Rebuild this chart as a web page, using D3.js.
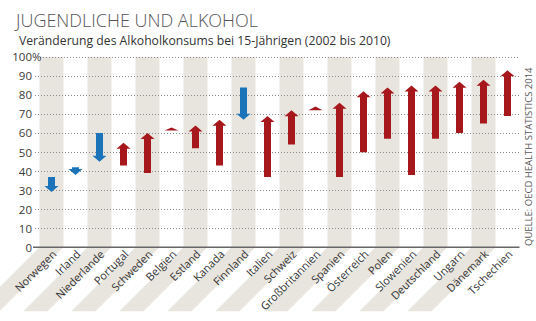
<!DOCTYPE html>
<html>
<head>
<meta charset="utf-8">
<script src="https://cdn.jsdelivr.net/npm/d3@7"></script>
<style>
  body { margin: 0; background: #fff; }
  svg { display: block; font-family: "Open Sans", "Noto Sans", sans-serif; }
</style>
</head>
<body>
<div id="chart"></div>
<script>
// Alkoholkonsum 15-Jähriger, Anteil in %, 2002 -> 2010
const countries = [
  'Norwegen', 'Irland', 'Niederlande', 'Portugal', 'Schweden', 'Belgien',
  'Estland', 'Kanada', 'Finnland', 'Italien', 'Schweiz', 'Großbritannien',
  'Spanien', 'Österreich', 'Polen', 'Slowenien', 'Deutschland', 'Ungarn',
  'Dänemark', 'Tschechien'
];
const values2002 = [37, 42, 60, 43, 39, 62, 52, 43, 84, 37, 54, 72, 37, 50, 57, 38, 57, 60, 65, 69];
const values2010 = [29, 38, 45, 55, 60, 63, 64, 67, 67, 69, 72, 74, 76, 82, 84, 85, 85, 87, 88, 93];
const yTicks = [0, 10, 20, 30, 40, 50, 60, 70, 80, 90, 100];

const width = 536, height = 321;
const margins = { top: 57, right: 16.5, bottom: 73, left: 39.5 };
const red = '#a6181c', blue = '#1b74b9', stripe = '#e8e5de';

const data = countries.map((c, i) => ({ country: c, from: values2002[i], to: values2010[i] }));

const svg = d3.select('#chart')
  .append('svg')
  .attr('width', width)
  .attr('height', height);

const x = d3.scaleBand()
  .domain(countries)
  .range([margins.left, width - margins.right])
  .padding(0);

const y = d3.scaleLinear()
  .domain([0, 100])
  .range([height - margins.bottom - 0.7, margins.top]);

const base = y(0);
const drop = 64;

// alternating column stripes, continued diagonally behind the labels
svg.append('g')
  .selectAll('path')
  .data(countries.filter((c, i) => i % 2 === 0))
  .enter()
  .append('path')
  .attr('d', c => {
    const x0 = x(c), x1 = x(c) + x.bandwidth();
    return `M${x0},${y(100)}H${x1}V${base}L${x1 - drop},${base + drop}H${x0 - drop}L${x0},${base}Z`;
  })
  .style('fill', stripe);

// dotted gridlines
svg.append('g')
  .selectAll('line')
  .data(yTicks.filter(t => t > 0))
  .enter()
  .append('line')
  .attr('x1', t => t === 100 ? 40 : 35)
  .attr('x2', width - margins.right)
  .attr('y1', t => Math.round(y(t)) + 0.5)
  .attr('y2', t => Math.round(y(t)) + 0.5)
  .style('stroke', '#8a8a8a')
  .style('stroke-width', 1)
  .style('stroke-dasharray', '1,2');

svg.append('line')
  .attr('x1', 33)
  .attr('x2', width - margins.right)
  .attr('y1', base)
  .attr('y2', base)
  .style('stroke', '#666')
  .style('stroke-width', 1.5);

// y tick labels
svg.append('g')
  .selectAll('text')
  .data(yTicks)
  .enter()
  .append('text')
  .attr('x', 32)
  .attr('y', t => y(t))
  .attr('dy', '0.38em')
  .attr('text-anchor', 'end')
  .style('font-size', '11.5px')
  .style('fill', '#3a3a3a')
  .text(d => d);

svg.append('text')
  .attr('x', 32)
  .attr('y', y(100))
  .attr('dy', '0.38em')
  .style('font-size', '11.5px')
  .style('fill', '#3a3a3a')
  .text('%');

// arrows from 2002 value to 2010 value
const shaft = 3.5, head = 7, headLen = 6;
function arrowPath(d) {
  const cx = x(d.country) + x.bandwidth() / 2;
  const y0 = y(d.from), y1 = y(d.to);
  const dir = y1 < y0 ? -1 : 1;
  const len = Math.abs(y1 - y0);
  const hl = Math.min(headLen, Math.max(len, 3));
  const yh = y1 - dir * hl;
  if (len <= headLen) {
    return `M${cx - head},${yh}L${cx},${y1}L${cx + head},${yh}Z`;
  }
  return `M${cx - shaft},${y0}L${cx - shaft},${yh}L${cx - head},${yh}L${cx},${y1}` +
    `L${cx + head},${yh}L${cx + shaft},${yh}L${cx + shaft},${y0}Z`;
}

svg.append('g')
  .selectAll('path')
  .data(data)
  .enter()
  .append('path')
  .attr('d', arrowPath)
  .style('fill', d => d.to < d.from ? blue : red);

// rotated country labels
svg.append('g')
  .selectAll('text')
  .data(countries)
  .enter()
  .append('text')
  .attr('transform', c => `translate(${x(c) + x.bandwidth() / 2 + 3},${base + 5}) rotate(-45)`)
  .attr('dy', '0.35em')
  .attr('text-anchor', 'end')
  .style('font-size', '11px')
  .style('fill', '#333')
  .text(c => c);

// title block
svg.append('text')
  .attr('x', 16)
  .attr('y', 27)
  .style('font-size', '18px')
  .style('font-weight', 300)
  .style('fill', '#555')
  .text('JUGENDLICHE UND ALKOHOL');

svg.append('text')
  .attr('x', 19)
  .attr('y', 45)
  .style('font-size', '12.2px')
  .style('fill', '#333')
  .text('Veränderung des Alkoholkonsums bei 15-Jährigen (2002 bis 2010)');

svg.append('text')
  .attr('transform', `translate(532,246) rotate(-90)`)
  .style('font-size', '9.5px')
  .style('fill', '#555')
  .text('QUELLE: OECD HEALTH STATISTICS 2014');
</script>
</body>
</html>
